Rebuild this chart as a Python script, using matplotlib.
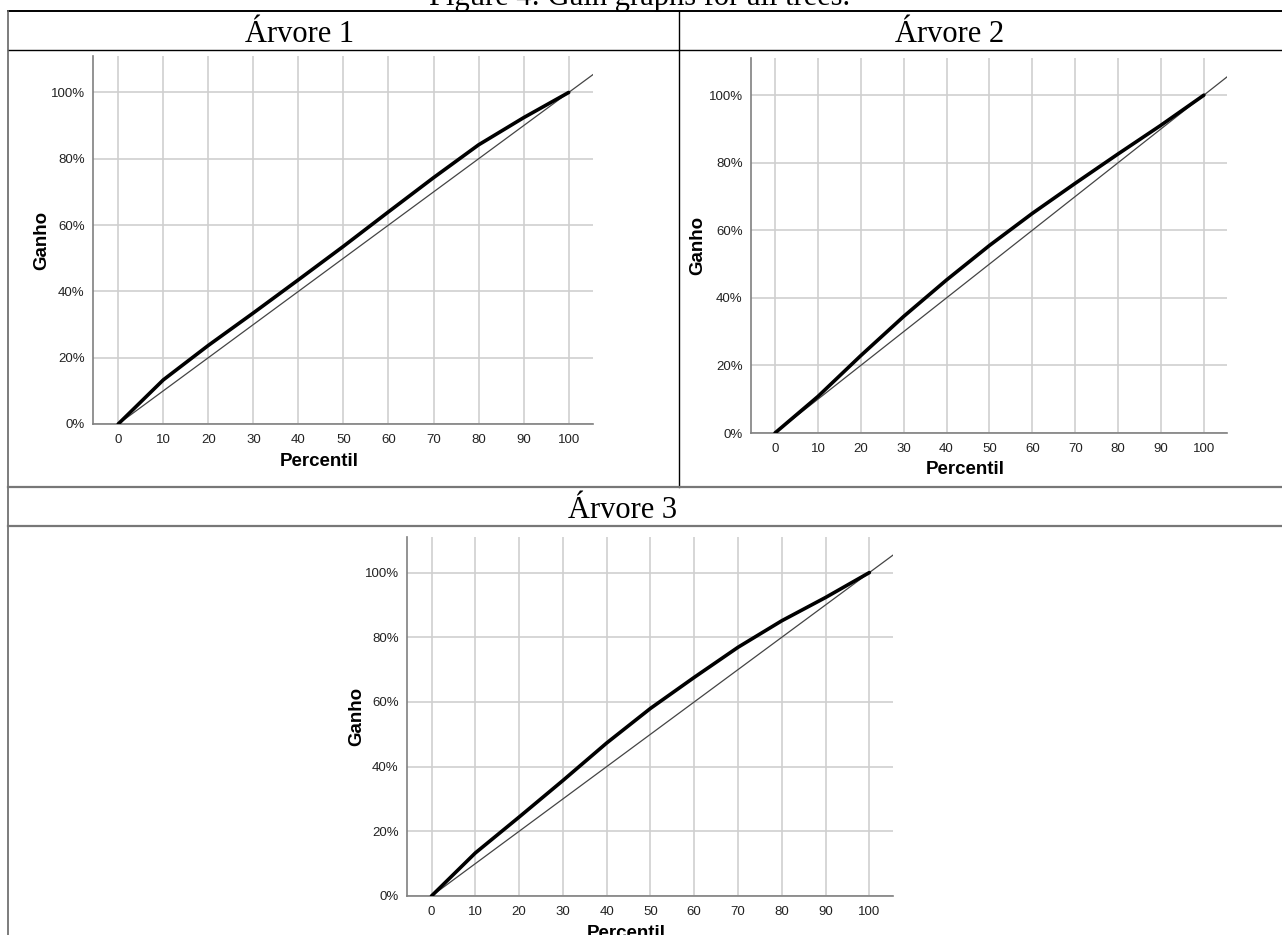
import matplotlib.pyplot as plt
from matplotlib.lines import Line2D

# Percentil (x) and Ganho (%) for each tree
percentil = [0, 10, 20, 30, 40, 50, 60, 70, 80, 90, 100]
ganho_arvore1 = [0, 13.3, 23.7, 33.5, 43.5, 53.6, 64.0, 74.3, 84.2, 92.4, 100]
ganho_arvore2 = [0, 10.8, 22.9, 34.5, 45.3, 55.5, 65.0, 73.9, 82.6, 91.1, 100]
ganho_arvore3 = [0, 13.3, 24.4, 35.7, 47.3, 58.0, 67.6, 76.9, 85.1, 92.3, 100]

titles = ['Árvore 1', 'Árvore 2', 'Árvore 3']
x_ticks = [0, 10, 20, 30, 40, 50, 60, 70, 80, 90, 100]
y_ticks = [0, 20, 40, 60, 80, 100]

W, H = 1282, 935


def fx(x):
    return x / W


def fy(y):
    return 1 - y / H


def box(l, t, r, b):
    return [fx(l), fy(b), (r - l) / W, (b - t) / H]


def hline(fig, y, x0, x1, color='black', lw=1.0):
    fig.add_artist(Line2D([fx(x0), fx(x1)], [fy(y), fy(y)], color=color, lw=lw,
                          transform=fig.transFigure))


def vline(fig, x, y0, y1, color='black', lw=1.0):
    fig.add_artist(Line2D([fx(x), fx(x)], [fy(y0), fy(y1)], color=color, lw=lw,
                          transform=fig.transFigure))


def gain_chart(ax, ganho, ylab_px):
    ax.set_xlim(-5.6, 105.4)
    ax.set_ylim(0, 111)
    ax.axline((0, 0), (100, 100), color='#444444', lw=0.9, zorder=3)
    ax.plot(percentil, ganho, color='black', lw=2.6, zorder=4,
            solid_joinstyle='round', solid_capstyle='round')
    ax.set_xticks(x_ticks)
    ax.set_yticks(y_ticks)
    ax.set_yticklabels([f'{v}%' for v in y_ticks])
    ax.grid(True, color='#cfcfcf', lw=1.2, zorder=0)
    ax.set_axisbelow(True)
    for s in ['top', 'right']:
        ax.spines[s].set_visible(False)
    for s in ['left', 'bottom']:
        ax.spines[s].set_color('#808080')
        ax.spines[s].set_linewidth(1.2)
    ax.tick_params(axis='both', length=0, labelsize=9.5, colors='#222222',
                   labelfontfamily='Liberation Sans')
    ax.tick_params(axis='x', pad=7)
    ax.tick_params(axis='y', pad=6)
    ax.set_xlabel('Percentil', fontsize=13.5, fontweight='bold', family='Liberation Sans')
    ax.set_ylabel('Ganho', fontsize=13.5, fontweight='bold', family='Liberation Sans')
    bbox = ax.get_position()
    w_px = bbox.width * W
    h_px = bbox.height * H
    ax.xaxis.set_label_coords(0.5 - 24 / w_px, -37 / h_px)
    ax.yaxis.set_label_coords(-ylab_px / w_px, 0.5)
    ax.xaxis.label.set_va('center')
    ax.yaxis.label.set_va('center')


fig = plt.figure(figsize=(12.82, 9.35), dpi=100)

ax1 = fig.add_axes(box(93, 56, 593, 424))
ax2 = fig.add_axes(box(751, 58, 1227, 433))
ax3 = fig.add_axes(box(407, 537, 893, 896))

gain_chart(ax1, ganho_arvore1, 51)
gain_chart(ax2, ganho_arvore2, 53)
gain_chart(ax3, ganho_arvore3, 50)

# document table around the charts
hline(fig, 11, 8, W, lw=1.4)
hline(fig, 50, 8, W, lw=1.0)
vline(fig, 679, 11, 487, lw=1.0)
vline(fig, 8, 11, H, color='#666666', lw=1.2)
hline(fig, 487, 8, W, color='#777777', lw=1.6)
hline(fig, 526, 8, W, color='#777777', lw=1.6)

serif = 'Liberation Serif'
fig.text(fx(640), fy(5), 'Figure 4: Gain graphs for all trees.', family=serif,
         fontsize=22, ha='center', va='baseline')
fig.text(fx(300), fy(42), titles[0], family=serif, fontsize=22, ha='center', va='baseline')
fig.text(fx(950), fy(42), titles[1], family=serif, fontsize=22, ha='center', va='baseline')
fig.text(fx(623), fy(518), titles[2], family=serif, fontsize=22, ha='center', va='baseline')

fig.savefig('out.png', dpi=100)
